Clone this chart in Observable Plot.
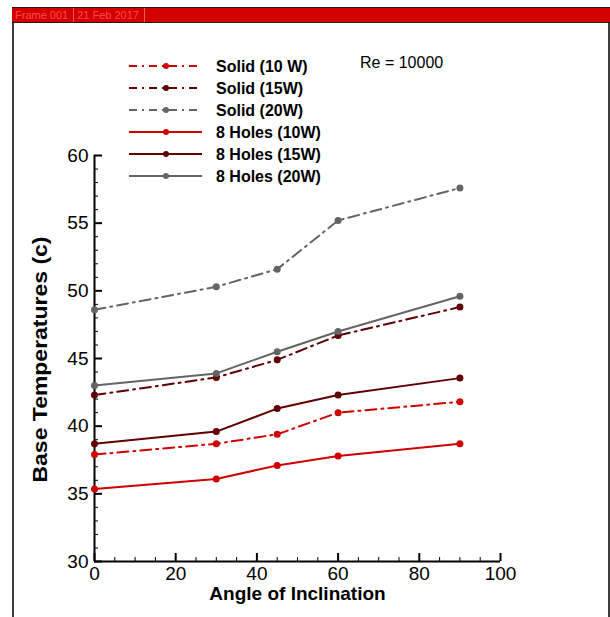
<!DOCTYPE html>
<html><head><meta charset="utf-8">
<script src="https://cdn.jsdelivr.net/npm/d3@7"></script>
<script src="https://cdn.jsdelivr.net/npm/@observablehq/plot@0.6"></script>
<style>
body{margin:0;background:#fff;}
#wrap{position:relative;width:610px;height:617px;overflow:hidden;font-family:"Liberation Sans",Arial,sans-serif;}
#frame{position:absolute;left:12px;top:7px;width:594px;height:640px;border-left:2px solid #3c3c3c;border-right:2px solid #3c3c3c;}
#bar{position:absolute;left:12px;top:7px;width:598px;height:14px;background:#d40000;border-top:1px solid #1a1a1a;border-bottom:1px solid #1a1a1a;font-size:11px;line-height:14px;color:#ff4a4a;white-space:nowrap;}
#bar span{display:inline-block;padding:0 5px 0 3px;border-right:1px solid #ff5a5a;}
#chart{position:absolute;left:0;top:0;}
#legend{position:absolute;left:0;top:0;}
</style></head>
<body><div id="wrap"><div id="frame"></div><div id="bar"><span>Frame 001</span><span>21 Feb 2017</span></div><div id="chart"></div><svg id="legend" width="610" height="200"></svg></div>
<script>
// ---- data ----
const angles = [0, 30, 45, 60, 90];
const solid10 = [37.9, 38.7, 39.4, 41.0, 41.8];
const solid15 = [42.3, 43.6, 44.9, 46.7, 48.8];
const solid20 = [48.6, 50.3, 51.6, 55.2, 57.6];
const holes10 = [35.35, 36.1, 37.1, 37.8, 38.7];
const holes15 = [38.7, 39.6, 41.3, 42.3, 43.55];
const holes20 = [43.0, 43.9, 45.5, 47.0, 49.6];
const seriesNames = ["Solid (10 W)", "Solid (15W)", "Solid (20W)", "8 Holes (10W)", "8 Holes (15W)", "8 Holes (20W)"];
const seriesValues = [solid10, solid15, solid20, holes10, holes15, holes20];
const yTicks = [30, 35, 40, 45, 50, 55, 60];
const xTicks = [0, 20, 40, 60, 80, 100];
const yMinor = d3.range(30, 61).filter(v => v % 5 !== 0);
const xMinor = d3.range(0, 101, 5).filter(v => v % 20 !== 0);
const xTitle = "Angle of Inclination";
const yTitle = "Base Temperatures (c)";
const annotation = "Re = 10000";

// ---- styles ----
const colors = ["#d00000", "#600000", "#646464", "#d00000", "#600000", "#646464"];
const dashes = ["11,5,2,5", "11,5,2,5", "11,5,2,5", null, null, null];

const W = 610, H = 617, ML = 94, MR = 110, MT = 155, MB = 56;
const PW = W - ML - MR, PH = H - MT - MB;
const sans = '"Liberation Sans",Arial,sans-serif';

const marks = [];
seriesNames.forEach((name, s) => {
  const data = angles.map((a, i) => ({series: name, angle: a, temp: seriesValues[s][i]}));
  marks.push(Plot.line(data, {x: "angle", y: "temp", stroke: colors[s], strokeWidth: 2, strokeDasharray: dashes[s]}));
  marks.push(Plot.dot(data, {x: "angle", y: "temp", fill: colors[s], r: 3.5}));
});

const chart = Plot.plot({
  width: W, height: H,
  marginLeft: ML, marginRight: MR, marginTop: MT, marginBottom: MB,
  x: {domain: [0, 100]},
  y: {domain: [30, 60]},
  style: {fontFamily: sans, fontSize: "19px", color: "#000", background: "transparent"},
  marks: [
    Plot.tickY(yMinor, {y: d => d, stroke: "#000", strokeWidth: 1, insetRight: PW - 4}),
    Plot.tickY(yTicks, {y: d => d, stroke: "#000", strokeWidth: 2, insetRight: PW - 8}),
    Plot.tickX(xMinor, {x: d => d, stroke: "#000", strokeWidth: 1, insetTop: PH - 4}),
    Plot.tickX(xTicks, {x: d => d, stroke: "#000", strokeWidth: 2, insetTop: PH - 8}),
    Plot.ruleX([0], {stroke: "#000", strokeWidth: 2}),
    Plot.ruleY([30], {stroke: "#000", strokeWidth: 2}),
    Plot.axisY({ticks: yTicks, tickSize: 0, tickPadding: 6, label: null, fontSize: 19}),
    Plot.axisX({ticks: xTicks, tickSize: 0, tickPadding: 5, label: null, fontSize: 19}),
    Plot.text([xTitle], {frameAnchor: "bottom", lineAnchor: "middle", textAnchor: "middle", dy: 32, fontWeight: "bold", fontSize: 19, fontFamily: sans}),
    Plot.text([yTitle], {frameAnchor: "left", textAnchor: "middle", lineAnchor: "middle", dx: -54, dy: 1, rotate: -90, fontWeight: "bold", fontSize: 20, fontFamily: sans}),
    ...marks
  ]
});
document.getElementById("chart").appendChild(chart);
d3.select(chart).selectAll("text").filter(function() { return this.textContent === yTitle; })
  .attr("textLength", 246).attr("lengthAdjust", "spacingAndGlyphs");

// ---- legend ----
const lg = d3.select("#legend");
seriesNames.forEach((name, s) => {
  const y = 66 + s * 22;
  lg.append("line").attr("x1", 129).attr("x2", 202).attr("y1", y).attr("y2", y)
    .attr("stroke", colors[s]).attr("stroke-width", 2).attr("stroke-dasharray", dashes[s] ? "8,5,2,5" : null);
  lg.append("circle").attr("cx", 166).attr("cy", y).attr("r", 3).attr("fill", colors[s]);
  lg.append("text").attr("x", 216).attr("y", y).attr("dy", "0.36em").attr("font-weight", "bold")
    .attr("font-size", 16).attr("font-family", sans).text(name);
});
lg.append("text").attr("x", 360).attr("y", 62).attr("dy", "0.36em").attr("font-size", 16)
  .attr("font-family", sans).text(annotation);
</script></body></html>
